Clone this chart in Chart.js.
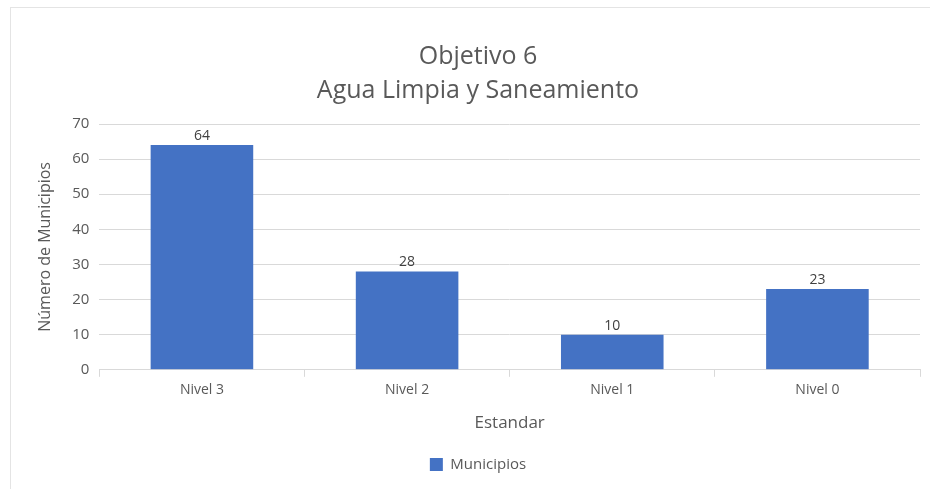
<!DOCTYPE html>
<html>
<head>
<meta charset="utf-8">
<script src="https://cdn.jsdelivr.net/npm/chart.js@4/dist/chart.umd.min.js"></script>
<style>
  body { margin: 0; background: #fff; }
  #marco { position: absolute; left: 10px; top: 7px; width: 930px; height: 490px; border: 1px solid #e4e4e4; box-sizing: border-box; }
  #wrap { position: absolute; left: 0; top: 0; width: 930px; height: 489px; }
</style>
</head>
<body>
<div id="marco"></div>
<div id="wrap"><canvas id="grafica"></canvas></div>
<script>
const niveles = ['Nivel 3', 'Nivel 2', 'Nivel 1', 'Nivel 0'];
const municipios = [64, 28, 10, 23];
const titulo = ['Objetivo 6', 'Agua Limpia y Saneamiento'];

const gris = '#595959';
const fuente = "'Open Sans', sans-serif";

// etiquetas de valor encima de cada barra
const etiquetas = {
  id: 'etiquetas',
  afterDatasetsDraw(chart) {
    const ctx = chart.ctx;
    const meta = chart.getDatasetMeta(0);
    ctx.save();
    ctx.fillStyle = '#404040';
    ctx.font = '14px ' + fuente;
    ctx.textAlign = 'center';
    ctx.textBaseline = 'bottom';
    meta.data.forEach((bar, i) => {
      ctx.fillText(municipios[i], bar.x, bar.y - 2);
    });
    ctx.restore();
  }
};

new Chart(document.getElementById('grafica'), {
  type: 'bar',
  data: {
    labels: niveles,
    datasets: [{
      label: 'Municipios',
      data: municipios,
      backgroundColor: '#4472C4',
      categoryPercentage: 1,
      barPercentage: 0.5
    }]
  },
  options: {
    responsive: true,
    maintainAspectRatio: false,
    animation: false,
    layout: { padding: { left: 36, right: 10, top: 30, bottom: 7 } },
    plugins: {
      title: {
        display: true,
        text: titulo,
        color: gris,
        font: { family: fuente, size: 25, weight: 'normal', lineHeight: 1.36 },
        padding: { top: 10, bottom: 16 }
      },
      legend: {
        position: 'bottom',
        labels: {
          color: gris,
          font: { family: fuente, size: 15 },
          boxWidth: 13,
          boxHeight: 13,
          padding: 10
        }
      },
      tooltip: { enabled: false }
    },
    scales: {
      x: {
        grid: { drawOnChartArea: false, color: '#d9d9d9', tickLength: 7 },
        border: { color: '#d9d9d9' },
        ticks: { color: gris, font: { family: fuente, size: 14 }, padding: 5 },
        title: {
          display: true,
          text: 'Estandar',
          color: gris,
          font: { family: fuente, size: 17 },
          padding: { top: 9, bottom: 14 }
        }
      },
      y: {
        min: 0,
        max: 70,
        ticks: { stepSize: 10, color: gris, font: { family: fuente, size: 15 }, padding: 10 },
        grid: { color: '#d9d9d9', drawTicks: false },
        border: { display: false },
        title: {
          display: true,
          text: 'Número de Municipios',
          color: gris,
          font: { family: fuente, size: 16 },
          padding: { top: 0, bottom: 7 }
        }
      }
    }
  },
  plugins: [etiquetas]
});
</script>
</body>
</html>
